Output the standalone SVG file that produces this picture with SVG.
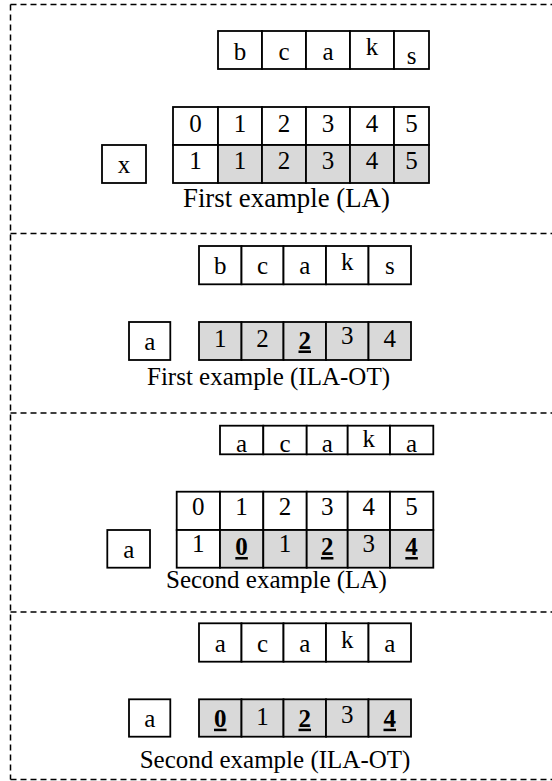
<svg xmlns="http://www.w3.org/2000/svg" width="552" height="781" viewBox="0 0 552 781">
  <style>
    .frame { fill: none; stroke: #000; stroke-width: 1.5; stroke-dasharray: 6 4; }
    .cell { fill: #fff; stroke: #000; stroke-width: 1.8; }
    .shade { fill: #d9d9d9; stroke: #000; stroke-width: 1.8; }
    text { font-family: "Liberation Serif", "Times New Roman", serif; font-size: 25px; fill: #000; }
    .c { text-anchor: middle; }
    .bu { font-weight: bold; text-decoration: underline; }
    .big { font-size: 26.8px; }
  </style>

  <!-- dashed frame and section separators -->
  <g id="frame">
    <line class="frame" x1="10.5" y1="4.5" x2="552" y2="4.5"/>
    <line class="frame" x1="10.5" y1="4.5" x2="10.5" y2="779.5"/>
    <line class="frame" x1="10.5" y1="233.5" x2="552" y2="233.5"/>
    <line class="frame" x1="10.5" y1="413" x2="552" y2="413"/>
    <line class="frame" x1="10.5" y1="612" x2="552" y2="612"/>
    <line class="frame" x1="10.5" y1="779.5" x2="552" y2="779.5"/>
  </g>

  <!-- ===== First example (LA) ===== -->
  <g id="s1-string">
    <rect class="cell" x="218" y="31" width="44" height="38"/>
    <rect class="cell" x="262" y="31" width="44" height="38"/>
    <rect class="cell" x="306" y="31" width="44" height="38"/>
    <rect class="cell" x="350" y="31" width="44" height="38"/>
    <rect class="cell" x="394" y="31" width="35" height="38"/>
    <text class="c" x="240" y="59.5">b</text>
    <text class="c" x="284" y="59.5">c</text>
    <text class="c" x="328" y="59.5">a</text>
    <text class="c" x="372" y="55">k</text>
    <text class="c" x="411.5" y="64">s</text>
  </g>
  <g id="s1-table">
    <rect class="cell" x="173" y="107" width="45" height="38"/>
    <rect class="cell" x="218" y="107" width="44" height="38"/>
    <rect class="cell" x="262" y="107" width="44" height="38"/>
    <rect class="cell" x="306" y="107" width="44" height="38"/>
    <rect class="cell" x="350" y="107" width="44" height="38"/>
    <rect class="cell" x="394" y="107" width="35" height="38"/>
    <rect class="cell" x="173" y="145" width="45" height="38"/>
    <rect class="shade" x="218" y="145" width="44" height="38"/>
    <rect class="shade" x="262" y="145" width="44" height="38"/>
    <rect class="shade" x="306" y="145" width="44" height="38"/>
    <rect class="shade" x="350" y="145" width="44" height="38"/>
    <rect class="shade" x="394" y="145" width="35" height="38"/>
    <text class="c" x="195.5" y="131.5">0</text>
    <text class="c" x="240" y="131.5">1</text>
    <text class="c" x="284" y="131.5">2</text>
    <text class="c" x="328" y="131.5">3</text>
    <text class="c" x="372" y="131.5">4</text>
    <text class="c" x="411.5" y="131.5">5</text>
    <text class="c" x="195.5" y="168.5">1</text>
    <text class="c" x="240" y="168.5">1</text>
    <text class="c" x="284" y="168.5">2</text>
    <text class="c" x="328" y="168.5">3</text>
    <text class="c" x="372" y="168.5">4</text>
    <text class="c" x="411.5" y="168.5">5</text>
  </g>
  <g id="s1-char">
    <rect class="cell" x="102" y="145" width="44" height="38"/>
    <text class="c" x="124" y="173">x</text>
  </g>
  <g id="s1-caption">
    <text class="big" x="183" y="207">First example (LA)</text>
  </g>

  <!-- ===== First example (ILA-OT) ===== -->
  <g id="s2-string">
    <rect class="cell" x="199" y="246" width="42.5" height="38.3"/>
    <rect class="cell" x="241.5" y="246" width="42" height="38.3"/>
    <rect class="cell" x="283.5" y="246" width="42.5" height="38.3"/>
    <rect class="cell" x="326" y="246" width="42.5" height="38.3"/>
    <rect class="cell" x="368.5" y="246" width="42.5" height="38.3"/>
    <text class="c" x="220.25" y="274">b</text>
    <text class="c" x="262.5" y="274">c</text>
    <text class="c" x="304.75" y="274">a</text>
    <text class="c" x="347.25" y="270">k</text>
    <text class="c" x="389.75" y="274">s</text>
  </g>
  <g id="s2-char">
    <rect class="cell" x="129" y="322" width="41.3" height="38"/>
    <text class="c" x="149.7" y="350">a</text>
  </g>
  <g id="s2-values">
    <rect class="shade" x="199" y="322" width="42.5" height="38"/>
    <rect class="shade" x="241.5" y="322" width="42" height="38"/>
    <rect class="shade" x="283.5" y="322" width="42.5" height="38"/>
    <rect class="shade" x="326" y="322" width="42.5" height="38"/>
    <rect class="shade" x="368.5" y="322" width="42.5" height="38"/>
    <text class="c" x="220.25" y="346.7">1</text>
    <text class="c" x="262.5" y="346.7">2</text>
    <text class="c bu" x="304.75" y="348.5">2</text>
    <text class="c" x="347.25" y="344">3</text>
    <text class="c" x="389.75" y="346.7">4</text>
  </g>
  <g id="s2-caption">
    <text x="147" y="385">First example (ILA-OT)</text>
  </g>

  <!-- ===== Second example (LA) ===== -->
  <g id="s3-string">
    <rect class="cell" x="220" y="425.7" width="43.3" height="28.6"/>
    <rect class="cell" x="263.3" y="425.7" width="43.4" height="28.6"/>
    <rect class="cell" x="306.7" y="425.7" width="41" height="28.6"/>
    <rect class="cell" x="347.7" y="425.7" width="42.3" height="28.6"/>
    <rect class="cell" x="390" y="425.7" width="43.3" height="28.6"/>
    <text class="c" x="241.6" y="451.5">a</text>
    <text class="c" x="285" y="451.5">c</text>
    <text class="c" x="327.2" y="451.5">a</text>
    <text class="c" x="368.8" y="447">k</text>
    <text class="c" x="411.6" y="451.5">a</text>
  </g>
  <g id="s3-table">
    <rect class="cell" x="176.7" y="491.7" width="43.3" height="38.3"/>
    <rect class="cell" x="220" y="491.7" width="43.3" height="38.3"/>
    <rect class="cell" x="263.3" y="491.7" width="43.4" height="38.3"/>
    <rect class="cell" x="306.7" y="491.7" width="41" height="38.3"/>
    <rect class="cell" x="347.7" y="491.7" width="42.3" height="38.3"/>
    <rect class="cell" x="390" y="491.7" width="43.3" height="38.3"/>
    <rect class="cell" x="176.7" y="530" width="43.3" height="37.7"/>
    <rect class="shade" x="220" y="530" width="43.3" height="37.7"/>
    <rect class="shade" x="263.3" y="530" width="43.4" height="37.7"/>
    <rect class="shade" x="306.7" y="530" width="41" height="37.7"/>
    <rect class="shade" x="347.7" y="530" width="42.3" height="37.7"/>
    <rect class="shade" x="390" y="530" width="43.3" height="37.7"/>
    <text class="c" x="198.3" y="515">0</text>
    <text class="c" x="241.6" y="515">1</text>
    <text class="c" x="285" y="515">2</text>
    <text class="c" x="327.2" y="515">3</text>
    <text class="c" x="368.8" y="515">4</text>
    <text class="c" x="411.6" y="515">5</text>
    <text class="c" x="198.3" y="551.7">1</text>
    <text class="c bu" x="241.6" y="555">0</text>
    <text class="c" x="285" y="551.7">1</text>
    <text class="c bu" x="327.2" y="555">2</text>
    <text class="c" x="368.8" y="551.7">3</text>
    <text class="c bu" x="411.6" y="555">4</text>
  </g>
  <g id="s3-char">
    <rect class="cell" x="107.3" y="530" width="42.7" height="37.7"/>
    <text class="c" x="128.7" y="558">a</text>
  </g>
  <g id="s3-caption">
    <text x="166" y="588">Second example (LA)</text>
  </g>

  <!-- ===== Second example (ILA-OT) ===== -->
  <g id="s4-string">
    <rect class="cell" x="199" y="623.3" width="42.5" height="38.4"/>
    <rect class="cell" x="241.5" y="623.3" width="42" height="38.4"/>
    <rect class="cell" x="283.5" y="623.3" width="42.5" height="38.4"/>
    <rect class="cell" x="326" y="623.3" width="42.5" height="38.4"/>
    <rect class="cell" x="368.5" y="623.3" width="42.5" height="38.4"/>
    <text class="c" x="220.25" y="651.7">a</text>
    <text class="c" x="262.5" y="651.7">c</text>
    <text class="c" x="304.75" y="651.7">a</text>
    <text class="c" x="347.25" y="648">k</text>
    <text class="c" x="389.75" y="651.7">a</text>
  </g>
  <g id="s4-char">
    <rect class="cell" x="129" y="699.3" width="41.3" height="37.4"/>
    <text class="c" x="149.7" y="726.7">a</text>
  </g>
  <g id="s4-values">
    <rect class="shade" x="199" y="699.3" width="42.5" height="37.4"/>
    <rect class="shade" x="241.5" y="699.3" width="42" height="37.4"/>
    <rect class="shade" x="283.5" y="699.3" width="42.5" height="37.4"/>
    <rect class="shade" x="326" y="699.3" width="42.5" height="37.4"/>
    <rect class="shade" x="368.5" y="699.3" width="42.5" height="37.4"/>
    <text class="c bu" x="220.25" y="726.7">0</text>
    <text class="c" x="262.5" y="725">1</text>
    <text class="c bu" x="304.75" y="726.7">2</text>
    <text class="c" x="347.25" y="723.3">3</text>
    <text class="c bu" x="389.75" y="726.7">4</text>
  </g>
  <g id="s4-caption">
    <text class="c" x="275" y="768">Second example (ILA-OT)</text>
  </g>
</svg>
